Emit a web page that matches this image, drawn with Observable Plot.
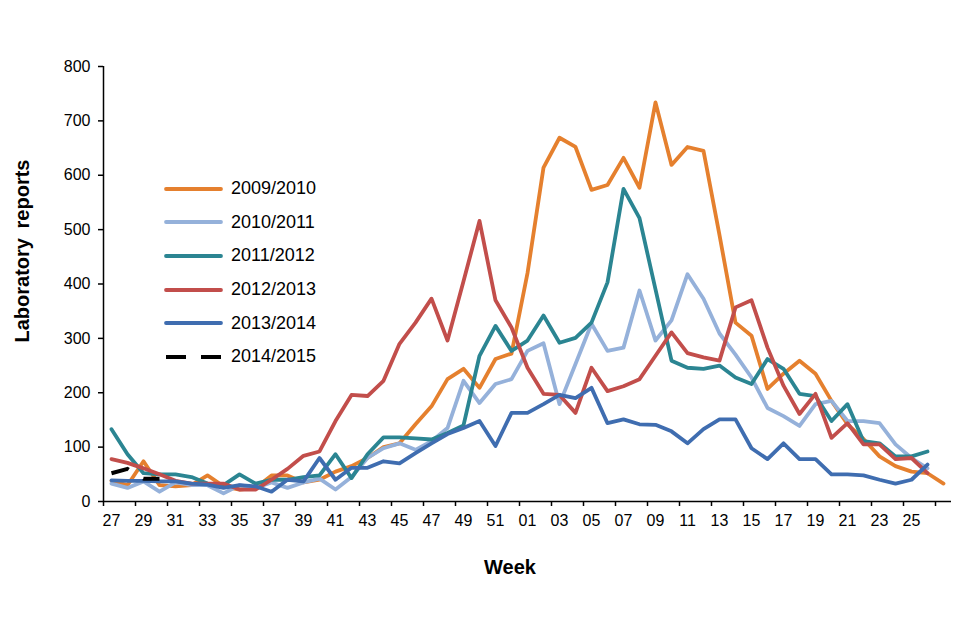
<!DOCTYPE html>
<html><head><meta charset="utf-8">
<script src="https://cdn.jsdelivr.net/npm/d3@7"></script>
<script src="https://cdn.jsdelivr.net/npm/@observablehq/plot@0.6"></script>
<style>
body{margin:0;background:#fff;}
#wrap{position:relative;width:960px;height:640px;font-family:"Liberation Sans",Arial,sans-serif;}
#legend{position:absolute;left:164px;top:172px;}
.row{display:flex;align-items:center;height:33.6px;font-size:18px;color:#000;}
.row svg{display:block;}
.row span{margin-left:7px;}
.ttl{position:absolute;font-weight:bold;font-size:20px;color:#000;white-space:nowrap;}
#ytitle{left:22px;top:251px;transform:translate(-50%,-50%) rotate(-90deg);word-spacing:4px;}
#xtitle{left:510px;top:567px;transform:translate(-50%,-50%);}
</style></head><body><div id="wrap"><div id="legend"></div><div class="ttl" id="ytitle"></div><div class="ttl" id="xtitle"></div></div>
<script>
const weeks = ["27","28","29","30","31","32","33","34","35","36","37","38","39","40","41","42","43","44","45","46","47","48","49","50","51","52",
"01","02","03","04","05","06","07","08","09","10","11","12","13","14","15","16","17","18","19","20","21","22","23","24","25","26","27"];
const yTicks = [0,100,200,300,400,500,600,700,800];
const seasons = ["2009/2010","2010/2011","2011/2012","2012/2013","2013/2014","2014/2015"];
const colors = ["#E5802E","#95B1DA","#2B8592","#C24E4B","#3F6DB0","#000000"];
const yTitle = "Laboratory reports";
const xTitle = "Week";

const s0910 = [38,30,74,30,28,30,48,28,22,25,48,48,35,40,55,65,80,100,107,142,175,225,244,209,262,272,420,614,669,652,573,582,632,577,734,619,652,645,490,329,305,207,235,259,235,185,142,115,83,65,55,52,33];
const s1011 = [33,25,37,18,35,30,30,15,30,25,35,25,35,42,22,45,80,98,107,95,111,135,222,181,216,225,277,291,179,253,327,277,283,388,296,333,418,373,309,270,228,172,157,139,179,185,148,148,144,105,80,61];
const s1112 = [133,87,52,50,50,45,33,30,50,33,40,40,45,48,87,43,87,118,118,116,114,126,140,268,323,277,296,342,292,301,329,403,575,521,390,259,246,244,250,228,216,262,244,198,194,148,179,111,107,83,83,92];
const s1213 = [78,71,61,50,38,33,33,33,22,22,40,60,84,92,148,196,194,222,290,329,373,296,405,516,370,320,246,198,196,163,246,203,212,225,268,311,273,265,259,357,370,283,213,161,198,117,144,105,105,78,80,52];
const s1314 = [39,38,38,37,37,33,31,25,30,28,18,40,37,80,40,62,62,74,70,89,107,124,135,148,102,163,163,179,196,190,209,144,151,142,141,129,107,133,151,151,98,78,107,78,78,50,50,48,40,33,40,68];
const s1415 = [52,60,42,42];
const series = [s0910,s1011,s1112,s1213,s1314,s1415];

const rows = [];
seasons.forEach((name,k)=>series[k].forEach((v,i)=>{ if(v!=null) rows.push({season:name,i,v}); }));
const tickBounds = d3.range(0,27).map(k=>-0.5+2*k);
const labelIdx = d3.range(0,51,2);
const font = '"Liberation Sans", Arial, sans-serif';

const chart = Plot.plot({
  width:960, height:640,
  marginLeft:103, marginRight:9, marginTop:66, marginBottom:139,
  x:{domain:[-0.5,52.5]},
  y:{domain:[0,800]},
  color:{domain:seasons, range:colors},
  style:{fontFamily:font, color:"black", background:"white", overflow:"visible"},
  marks:[
    Plot.axisY({ticks:yTicks, tickSize:5, tickPadding:8, label:null, fontSize:16, strokeWidth:1.5}),
    Plot.axisX({ticks:tickBounds, tickSize:5, tickFormat:()=>"", label:null, strokeWidth:1.5}),
    Plot.axisX({ticks:labelIdx, tickSize:0, tickPadding:13, tickFormat:i=>weeks[i], label:null, fontSize:16}),
    Plot.line(rows.filter(d=>d.season!=="2014/2015"), {x:"i", y:"v", z:"season", stroke:"season", strokeWidth:3.8, strokeLinejoin:"round", strokeLinecap:"round"}),
    Plot.line(rows.filter(d=>d.season==="2014/2015"), {x:"i", y:"v", z:"season", stroke:"season", strokeWidth:4, strokeDasharray:"18,17", strokeLinecap:"butt"}),
    Plot.ruleX([-0.5], {strokeWidth:1.5}),
    Plot.ruleY([0], {strokeWidth:1.5})
  ]
});
const wrap = document.getElementById("wrap");
wrap.insertBefore(chart, wrap.firstChild);
document.getElementById("ytitle").textContent = yTitle;
document.getElementById("xtitle").textContent = xTitle;

const legend = document.getElementById("legend");
seasons.forEach((name,k)=>{
  const row = document.createElement("div");
  row.className = "row";
  const dash = name==="2014/2015" ? 'stroke-dasharray="20,15" stroke-linecap="butt"' : 'stroke-linecap="round"';
  row.innerHTML = `<svg width="60" height="10"><line x1="2" x2="57" y1="5" y2="5" stroke="${colors[k]}" stroke-width="${name==="2014/2015"?4.2:3.8}" ${dash}/></svg><span>${name}</span>`;
  legend.appendChild(row);
});
</script></body></html>
